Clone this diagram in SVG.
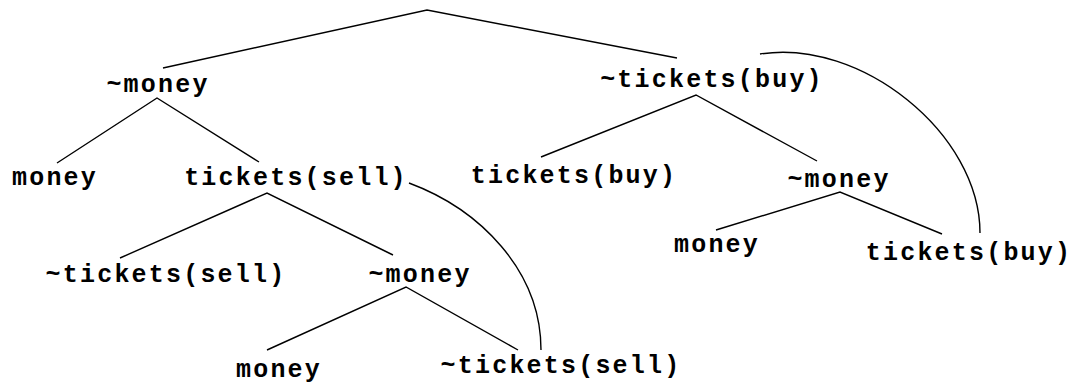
<svg xmlns="http://www.w3.org/2000/svg" width="1075" height="388" viewBox="0 0 1075 388">
  <style>
    .lbl { font-family: "Liberation Mono", "Courier New", monospace; font-weight: bold; font-size: 25px; letter-spacing: 2.2px; fill: #000; text-anchor: middle; }
    .edge { stroke: #000; stroke-width: 1.4; fill: none; }
  </style>
  <rect width="1075" height="388" fill="#fff"/>

  <!-- tree edges and the two matching arcs -->
  <g id="connectors">
    <polyline class="edge" points="163,68 427,10 677,58"/>
    <polyline class="edge" points="57,163 157,98 259,162"/>
    <polyline class="edge" points="541,157 696,95 817,161"/>
    <polyline class="edge" points="120,258 267,193 393,255"/>
    <polyline class="edge" points="716,230 840,192 942,234"/>
    <polyline class="edge" points="267,350 406,287 518,350"/>
    <path class="edge" d="M409,183 C479,209 541,270 541,350"/>
    <path class="edge" d="M760,54 C860,38 980,133 980,233"/>
  </g>

  <!-- x is the visual centre plus half the trailing letter-spacing -->
  <g id="n-not-money-1"><text class="lbl" x="158" y="92">~money</text></g>
  <g id="n-money-1"><text class="lbl" x="55" y="185">money</text></g>
  <g id="n-tickets-sell-1"><text class="lbl" x="296" y="185">tickets(sell)</text></g>
  <g id="n-not-tickets-sell-1"><text class="lbl" x="166" y="282">~tickets(sell)</text></g>
  <g id="n-not-money-2"><text class="lbl" x="420" y="282">~money</text></g>
  <g id="n-money-2"><text class="lbl" x="279" y="377">money</text></g>
  <g id="n-not-tickets-sell-2"><text class="lbl" x="561" y="373">~tickets(sell)</text></g>
  <g id="n-not-tickets-buy"><text class="lbl" x="712" y="87">~tickets(buy)</text></g>
  <g id="n-tickets-buy-1"><text class="lbl" x="574" y="183">tickets(buy)</text></g>
  <g id="n-not-money-3"><text class="lbl" x="839" y="187">~money</text></g>
  <g id="n-money-3"><text class="lbl" x="717" y="252">money</text></g>
  <g id="n-tickets-buy-2"><text class="lbl" x="969" y="260">tickets(buy)</text></g>
</svg>
